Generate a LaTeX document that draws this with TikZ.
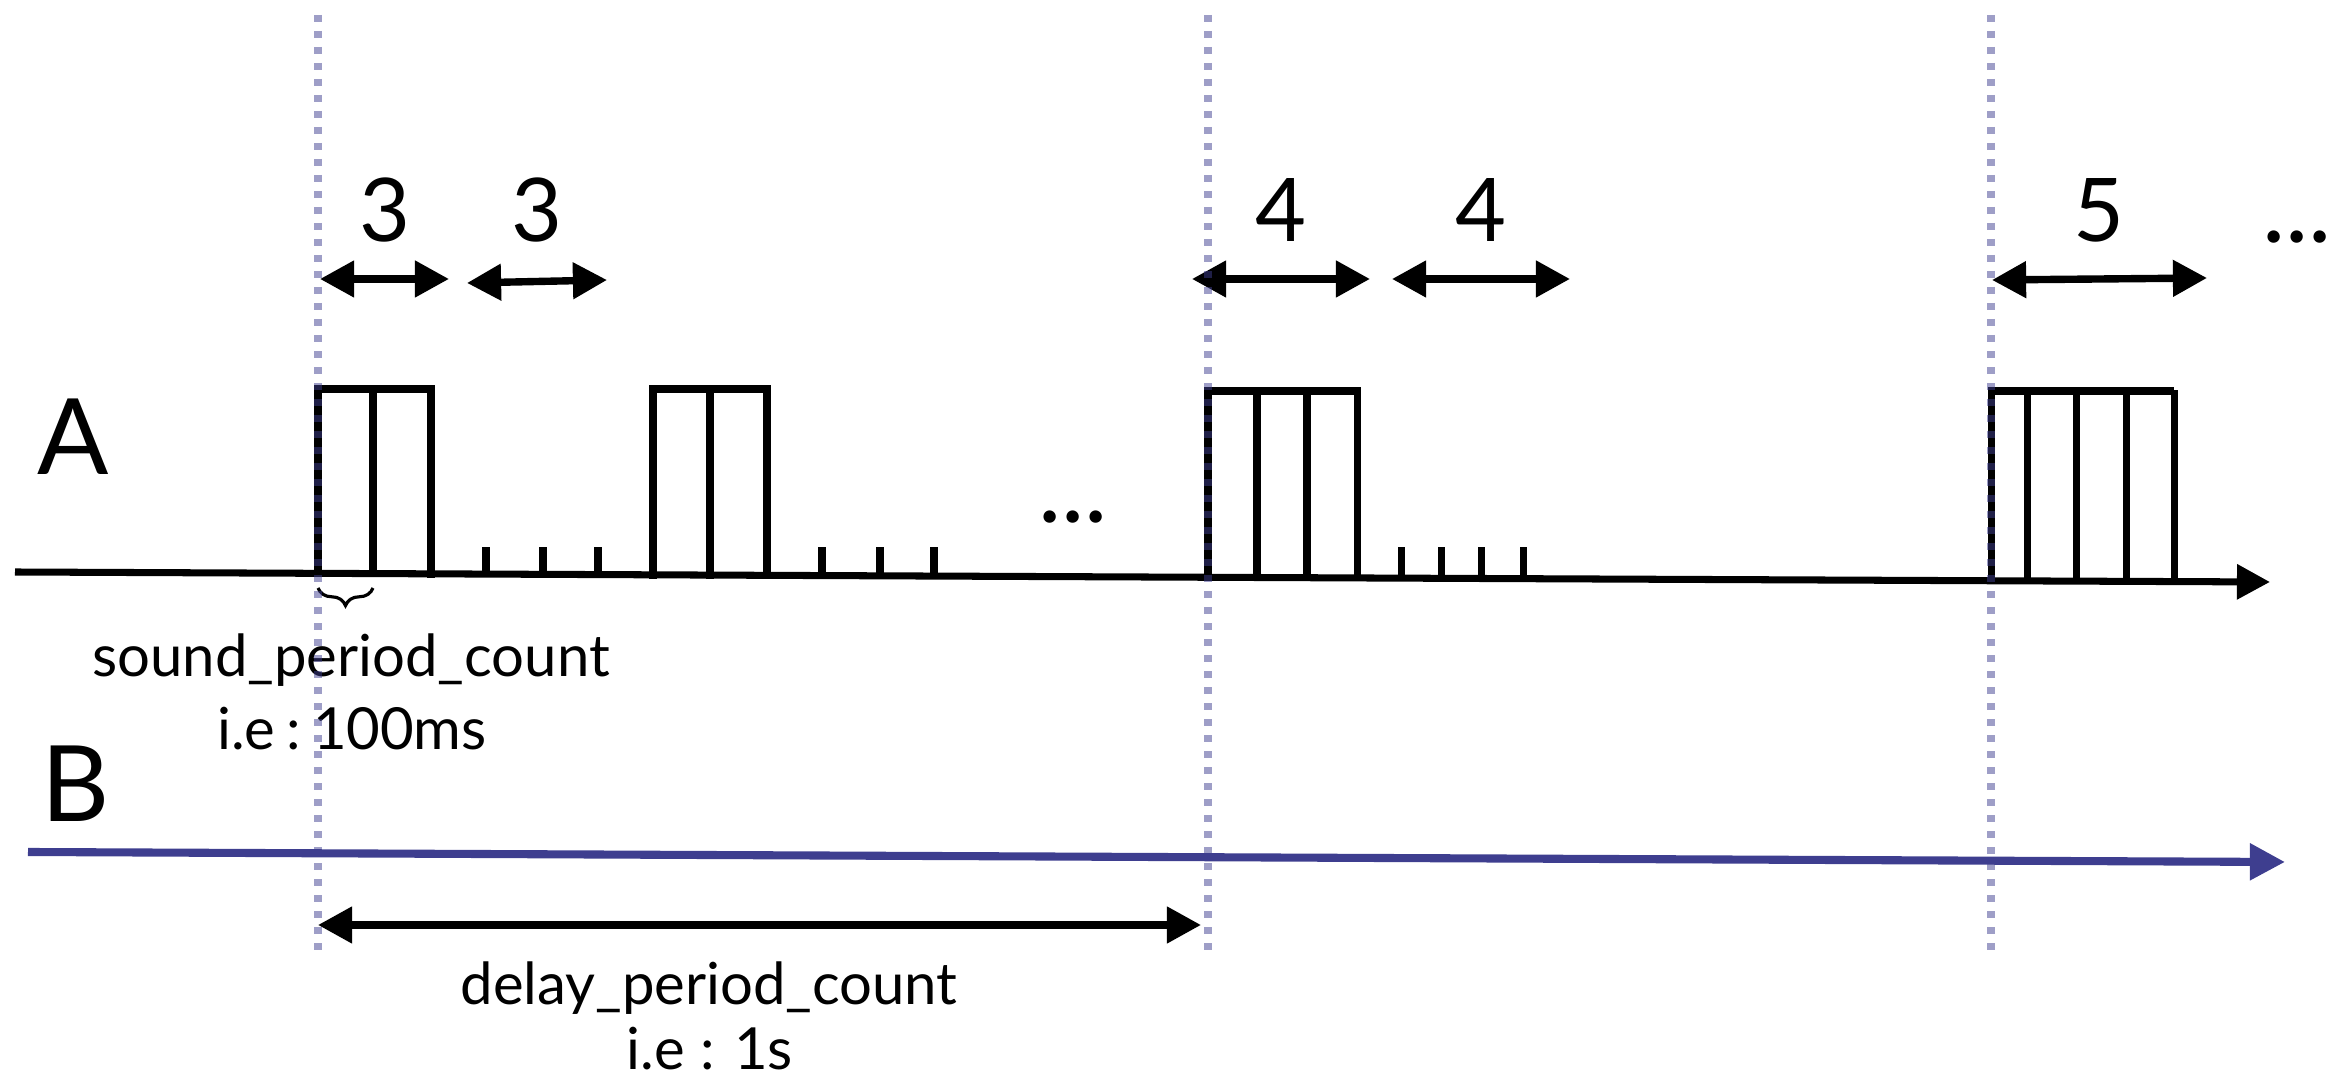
\documentclass[tikz,border=0pt]{standalone}
\usepackage{fontspec}
\setmainfont{Lato}
\usetikzlibrary{arrows.meta,decorations.pathreplacing}

\definecolor{navy}{RGB}{62,62,143}

\tikzset{
  axisline/.style={line width=2pt, -{Triangle[length=9.4pt,width=9.6pt]}},
  baxis/.style={line width=2.3pt, navy, -{Triangle[length=10pt,width=10pt]}},
  span/.style={line width=2.1pt, {Triangle[length=9.7pt,width=10pt]}-{Triangle[length=9.7pt,width=10pt]}},
  pulse/.style={line width=2pt, line cap=rect},
  tick/.style={line width=2pt},
  marker/.style={line width=2.5pt, navy, opacity=0.5, dash pattern=on 2.1pt off 2.45pt},
  lbl/.style={inner sep=0pt, anchor=base},
  big/.style={lbl, font=\fontsize{30}{34}\selectfont},
  num/.style={lbl, font=\fontsize{25}{29}\selectfont},
  txt/.style={lbl, font=\fontsize{16.5}{19}\selectfont},
  dots/.style={lbl, font=\fontsize{28}{30}\selectfont},
}

\begin{document}
\begin{tikzpicture}[x=0.01cm, y=-0.01cm]
\useasboundingbox (0,0) rectangle (2339,1077);

% ---- channel labels
\node[big] (la) at (73,475) {A};
\node[big] (lb) at (76,822) {B};

% ---- time axes
\coordinate (a0) at (15,572);
\coordinate (a1) at (2270,582);
\draw[axisline] (a0) -- (a1);
\coordinate (b0) at (28,852);
\coordinate (b1) at (2285,862);
\draw[baxis] (b0) -- (b1);

% ---- pulse trains (top edge, cell dividers, right edge)
% burst of 3
\draw[pulse] (318,573) -- (318,389) -- (431,389) -- (431,574);
\draw[pulse] (373,389) -- (373,573);
\draw[pulse] (653,575) -- (653,389) -- (767,389) -- (767,575);
\draw[pulse] (710,389) -- (710,575);
% burst of 4
\draw[pulse] (1208,577) -- (1208,391) -- (1357,391) -- (1357,577);
\foreach \x in {1257,1307} \draw[pulse] (\x,391) -- (\x,577);
% burst of 5
\draw[pulse] (1991,580) -- (1991,391) -- (2170,391);
\draw[pulse] (2174,394) -- (2174,581);
\foreach \x in {2027,2076,2126} \draw[pulse] (\x,391) -- (\x,580);

% ---- silent periods
\foreach \x in {486,543,598} \draw[tick] (\x,574) -- (\x,547);
\foreach \x in {822,880,934} \draw[tick] (\x,575) -- (\x,547);
\foreach \x in {1401,1441,1481,1523} \draw[tick] (\x,578) -- (\x,547);

% ---- period counts
\coordinate (s1l) at (320,279);  \coordinate (s1r) at (449,279);
\coordinate (s2l) at (467,283);  \coordinate (s2r) at (607,280);
\coordinate (s3l) at (1192,279); \coordinate (s3r) at (1370,279);
\coordinate (s4l) at (1392,279); \coordinate (s4r) at (1570,279);
\coordinate (s5l) at (1992,280); \coordinate (s5r) at (2207,278);
\draw[span] (s1l) -- (s1r);
\draw[span] (s2l) -- (s2r);
\draw[span] (s3l) -- (s3r);
\draw[span] (s4l) -- (s4r);
\draw[span] (s5l) -- (s5r);
\node[num] (n1) at (385,242) {3};
\node[num] (n2) at (537,242) {3};
\node[num] (n3) at (1281,242) {4};
\node[num] (n4) at (1481,242) {4};
\node[num] (n5) at (2099,242) {5};
\node[dots] (more) at (2297,243) {...};
\node[dots] (skip) at (1073,523) {...};

% ---- one sound period
\draw[line width=0.9pt, decorate, decoration={brace, amplitude=5pt, mirror}]
  (318,588) -- (373,588);
\node[txt] (snd) at (351,677) {sound\_period\_count};
\node[txt] (snde) at (352,750) {i.e\hspace{0.2em}:\hspace{0.2em}100ms};

% ---- delay period
\coordinate (dl) at (318,925);
\coordinate (dr) at (1201,925);
\draw[span] (dl) -- (dr);
\node[txt] (dly) at (709,1005) {delay\_period\_count};
\node[txt] (dlye) at (710,1070) {i.e : 1s};

% ---- cycle boundaries
\foreach \x in {318,1208,1991} \draw[marker] (\x,15) -- (\x,950);
\end{tikzpicture}
\end{document}
